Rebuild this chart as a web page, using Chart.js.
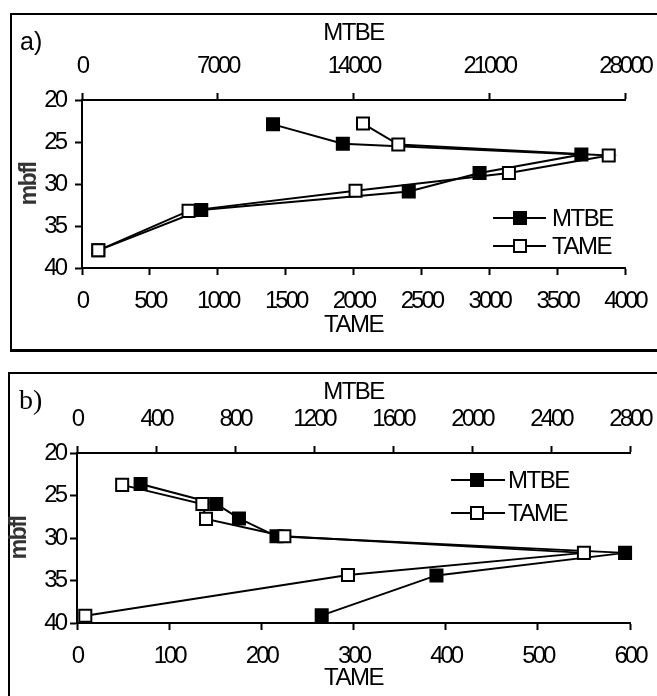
<!DOCTYPE html>
<html>
<head>
<meta charset="utf-8">
<script src="https://cdn.jsdelivr.net/npm/chart.js@4.4.1/dist/chart.umd.min.js"></script>
<style>
html,body{margin:0;padding:0;background:#fff;width:657px;height:696px;overflow:hidden;position:relative;font-family:"Liberation Sans",Arial,sans-serif;}
.frame{position:absolute;border:0 solid #000;box-sizing:border-box;}
#frameA{left:10px;top:13px;width:700px;height:339px;border-top-width:2px;border-left-width:2px;border-bottom-width:3px;}
#frameB{left:8px;top:372px;width:700px;height:400px;border-top-width:2px;border-left-width:2px;}
canvas{position:absolute;left:0;}
#cA{top:0;}
#cB{top:360px;}
.tag{position:absolute;line-height:1;color:#000;white-space:nowrap;}
#tagA{left:20px;top:27px;font:25px "Liberation Sans",Arial,sans-serif;}
#tagB{left:19px;top:384px;font:28px "Liberation Serif","Times New Roman",serif;}
.leg{position:absolute;height:28px;}
.leg .ln{position:absolute;top:13px;height:2px;background:#000;}
.leg .mk{position:absolute;top:7px;width:14px;height:14px;box-sizing:border-box;border:2px solid #000;}
.leg .tx{position:absolute;top:0;line-height:28px;font-size:24px;letter-spacing:-1.5px;color:#000;white-space:nowrap;}
</style>
</head>
<body>
<div class="frame" id="frameA"></div>
<div class="frame" id="frameB"></div>
<canvas id="cA" width="657" height="350"></canvas>
<canvas id="cB" width="657" height="336"></canvas>
<div class="tag" id="tagA">a)</div>
<div class="tag" id="tagB">b)</div>
<div id="legends"></div>
<script>
// ---------- Data ----------
// Panel a
const depthA_MTBE = [22.9, 25.2, 26.5, 28.7, 30.9, 33.1, 37.9];
const mtbeA       = [9850, 13450, 25750, 20500, 16850, 6150, 840];
const depthA_TAME = [22.8, 25.3, 26.6, 28.7, 30.8, 33.2, 37.9];
const tameA       = [2070, 2330, 3880, 3145, 2015, 785, 120];
// Panel b
const depthB_MTBE = [23.65, 26.0, 27.7, 29.8, 31.75, 34.4, 39.1];
const mtbeB       = [322, 705, 820, 1010, 2775, 1820, 1239];
const depthB_TAME = [23.75, 26.0, 27.75, 29.8, 31.75, 34.35, 39.15];
const tameB       = [49, 136, 140, 225, 550, 294, 9];
// Tick values
const depthTicks  = [20, 25, 30, 35, 40];
const tameTicksA  = [0, 500, 1000, 1500, 2000, 2500, 3000, 3500, 4000];
const mtbeTicksA  = [0, 7000, 14000, 21000, 28000];
const tameTicksB  = [0, 100, 200, 300, 400, 500, 600];
const mtbeTicksB  = [0, 400, 800, 1200, 1600, 2000, 2400, 2800];
// Labels
const seriesNames = ['MTBE', 'TAME'];
const depthTitle  = 'mbfl';
const panelTags   = ['a)', 'b)'];

// ---------- Condensed text like the original ----------
if (Chart.Scale && Chart.Scale.prototype) {
  const P = Chart.Scale.prototype;
  const dl = P.drawLabels, dt = P.drawTitle;
  P.drawLabels = function (a) { const c = this.ctx; c.letterSpacing = '-3px'; dl.call(this, a); c.letterSpacing = '0px'; };
  P.drawTitle = function () { const c = this.ctx; c.letterSpacing = '-1.5px'; dt.call(this); c.letterSpacing = '0px'; };
}

const FONT = '"Liberation Sans", Arial, sans-serif';
const plain = v => String(v);

function pts(xs, ys) { return xs.map((v, i) => ({ x: v, y: ys[i] })); }

function xScale(position, ticksArr, title, tickPad, titlePad, height) {
  return {
    type: 'linear', position,
    min: ticksArr[0], max: ticksArr[ticksArr.length - 1],
    afterBuildTicks: s => { s.ticks = ticksArr.map(v => ({ value: v })); },
    afterFit: s => { s.height = height; s.paddingLeft = 0; s.paddingRight = 0; },
    grid: { display: true, drawOnChartArea: false, drawTicks: true, tickLength: 7, tickWidth: 2, tickColor: '#000' },
    border: { display: true, color: '#000', width: 2 },
    ticks: { color: '#000', font: { family: FONT, size: 24 }, padding: tickPad, maxRotation: 0, autoSkip: false, callback: plain },
    title: {
      display: true, text: title, color: '#000', font: { family: FONT, size: 24 },
      padding: position === 'top' ? { top: titlePad, bottom: 0 } : { top: 0, bottom: titlePad }
    }
  };
}

function yScale(width, tickPad, titlePad) {
  return {
    type: 'linear', position: 'left', reverse: true,
    min: depthTicks[0], max: depthTicks[depthTicks.length - 1],
    afterBuildTicks: s => { s.ticks = depthTicks.map(v => ({ value: v })); },
    afterFit: s => { s.width = width; s.paddingTop = 0; s.paddingBottom = 0; },
    grid: { display: true, drawOnChartArea: false, drawTicks: true, tickLength: 7, tickWidth: 2, tickColor: '#000' },
    border: { display: true, color: '#000', width: 2 },
    ticks: { color: '#000', font: { family: FONT, size: 24 }, padding: tickPad, callback: plain },
    title: { display: true, text: depthTitle, color: '#333', font: { family: FONT, size: 23, weight: 'bold' }, padding: { top: titlePad, bottom: 0 } }
  };
}

function ds(label, data, axis, filled, order) {
  return {
    label, data, xAxisID: axis, yAxisID: 'y', order,
    showLine: true, tension: 0, fill: false, clip: false,
    borderColor: '#000', borderWidth: 2,
    pointStyle: 'rect', pointRadius: 8.5, pointHoverRadius: 8.5,
    pointBackgroundColor: filled ? '#000' : '#fff', pointBorderColor: '#000', pointBorderWidth: 2
  };
}

function makeChart(id, p) {
  return new Chart(document.getElementById(id), {
    type: 'scatter',
    data: {
      datasets: [
        ds(seriesNames[0], pts(p.mtbe, p.depthM), 'xt', true, 1),
        ds(seriesNames[1], pts(p.tame, p.depthT), 'x', false, 0)
      ]
    },
    options: {
      responsive: false, animation: false, devicePixelRatio: 1,
      layout: { padding: { left: 0, right: p.padRight, top: 0, bottom: 0 } },
      plugins: { legend: { display: false }, tooltip: { enabled: false }, title: { display: false } },
      events: [],
      scales: {
        xt: xScale('top', p.mtbeTicks, seriesNames[0], 12, p.topTitlePad, p.topH),
        x: xScale('bottom', p.tameTicks, seriesNames[1], 12, p.botTitlePad, p.botH),
        y: yScale(p.leftW, p.yPad, p.yTitlePad)
      }
    }
  });
}

makeChart('cA', {
  mtbe: mtbeA, depthM: depthA_MTBE, tame: tameA, depthT: depthA_TAME,
  mtbeTicks: mtbeTicksA, tameTicks: tameTicksA,
  padRight: 32, topH: 100, botH: 82, leftW: 82,
  topTitlePad: 19, botTitlePad: 10, yPad: 10, yTitlePad: 16
});
makeChart('cB', {
  mtbe: mtbeB, depthM: depthB_MTBE, tame: tameB, depthT: depthB_TAME,
  mtbeTicks: mtbeTicksB, tameTicks: tameTicksB,
  padRight: 27, topH: 93, botH: 73, leftW: 77,
  topTitlePad: 18, botTitlePad: 3, yPad: 5, yTitlePad: 6
});

document.getElementById('tagA').textContent = panelTags[0];
document.getElementById('tagB').textContent = panelTags[1];

// HTML legends (inside plot areas)
const legendSpecs = [
  { lineL: 493, lineR: 546, mk: 520, txt: 552, ys: [218, 246] },
  { lineL: 451, lineR: 505, mk: 477, txt: 508, ys: [480, 513] }
];
const legRoot = document.getElementById('legends');
legendSpecs.forEach(sp => {
  seriesNames.forEach((name, i) => {
    const d = document.createElement('div');
    d.className = 'leg';
    d.style.left = sp.lineL + 'px';
    d.style.top = (sp.ys[i] - 14) + 'px';
    const ln = document.createElement('span'); ln.className = 'ln';
    ln.style.left = '0px'; ln.style.width = (sp.lineR - sp.lineL) + 'px';
    const mk = document.createElement('span'); mk.className = 'mk';
    mk.style.left = (sp.mk - sp.lineL - 7) + 'px';
    mk.style.background = i === 0 ? '#000' : '#fff';
    const tx = document.createElement('span'); tx.className = 'tx';
    tx.style.left = (sp.txt - sp.lineL) + 'px'; tx.textContent = name;
    d.appendChild(ln); d.appendChild(mk); d.appendChild(tx);
    legRoot.appendChild(d);
  });
});
</script>
</body>
</html>
